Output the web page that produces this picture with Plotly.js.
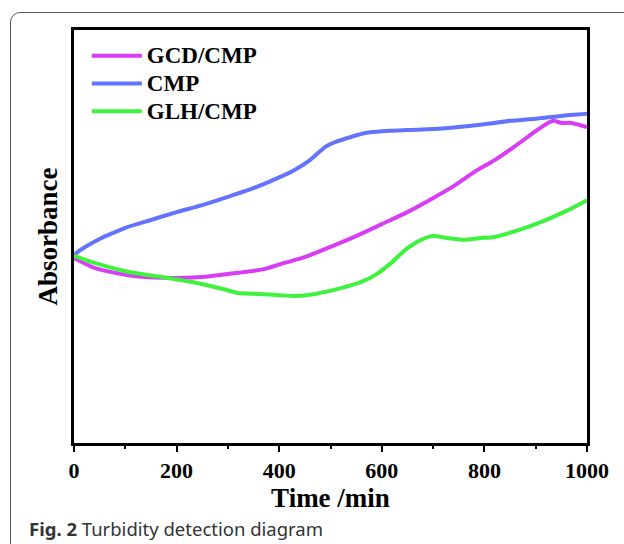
<!DOCTYPE html>
<html>
<head>
<meta charset="utf-8">
<script src="https://cdn.plot.ly/plotly-3.0.1.min.js"></script>
<style>
  html, body { margin: 0; padding: 0; background: #fff; overflow: hidden; }
  #wrap { position: relative; width: 624px; height: 544px; }
  #frame { position: absolute; left: 10px; top: 12px; width: 700px; height: 620px;
           border: 1.5px solid #555; border-radius: 10px; box-sizing: border-box; }
  #chart { position: absolute; left: 0; top: 0; width: 624px; height: 544px; }
</style>
</head>
<body>
<div id="wrap">
  <div id="frame"></div>
  <div id="chart"></div>
</div>
<script>
// Time (min) and absorbance (arbitrary units)
const timeCMP = [0, 10, 25, 50, 75, 100, 150, 200, 250, 300, 350, 400, 430, 460, 490, 510, 540, 570, 600, 650, 700, 750, 800, 850, 900, 950, 1000];
const absCMP  = [0.455, 0.465, 0.477, 0.494, 0.508, 0.521, 0.540, 0.559, 0.576, 0.596, 0.617, 0.643, 0.661, 0.685, 0.717, 0.729, 0.741, 0.751, 0.755, 0.758, 0.760, 0.765, 0.772, 0.780, 0.785, 0.792, 0.797];

const timeGCD = [0, 40, 80, 120, 170, 250, 320, 370, 410, 450, 500, 550, 600, 650, 690, 740, 780, 820, 860, 900, 920, 935, 950, 970, 985, 1000];
const absGCD  = [0.448, 0.424, 0.412, 0.404, 0.400, 0.402, 0.412, 0.421, 0.436, 0.450, 0.475, 0.501, 0.530, 0.559, 0.586, 0.622, 0.656, 0.685, 0.719, 0.755, 0.772, 0.780, 0.775, 0.775, 0.770, 0.765];

const timeGLH = [0, 40, 100, 170, 230, 290, 320, 360, 400, 430, 470, 520, 560, 590, 620, 650, 680, 700, 730, 760, 790, 820, 860, 910, 960, 1000];
const absGLH  = [0.453, 0.436, 0.416, 0.402, 0.390, 0.373, 0.363, 0.361, 0.358, 0.356, 0.361, 0.375, 0.390, 0.409, 0.438, 0.472, 0.494, 0.501, 0.496, 0.492, 0.496, 0.499, 0.513, 0.535, 0.562, 0.588];

const seriesNames = ['GCD/CMP', 'CMP', 'GLH/CMP'];
const xTickVals = [0, 200, 400, 600, 800, 1000];
const xTickText = ['0', '200', '400', '600', '800', '1000'];

const serif = 'Liberation Serif, Times New Roman, serif';
const colors = ['#d93cf5', '#6373fb', '#3ef23e'];

const traces = [
  { x: timeGCD, y: absGCD, name: seriesNames[0] },
  { x: timeCMP, y: absCMP, name: seriesNames[1] },
  { x: timeGLH, y: absGLH, name: seriesNames[2] }
].map((t, i) => Object.assign(t, {
  type: 'scatter', mode: 'lines',
  name: '<span style="font-size:23px">' + t.name + '</span>',
  line: { color: colors[i], width: 4, shape: 'spline', smoothing: 0.6 }
}));

const layout = {
  width: 624, height: 544,
  margin: { l: 74, r: 37, t: 30, b: 101 },
  paper_bgcolor: 'rgba(0,0,0,0)',
  plot_bgcolor: 'rgba(0,0,0,0)',
  showlegend: true,
  legend: {
    x: 0.025, y: 0.983, xanchor: 'left', yanchor: 'top',
    bgcolor: 'rgba(0,0,0,0)',
    font: { family: serif, size: 19, color: '#000', weight: 'bold' },
    itemwidth: 50
  },
  xaxis: {
    range: [0, 1000],
    tickvals: xTickVals, ticktext: xTickText,
    ticks: 'outside', ticklen: 6, tickwidth: 2, tickcolor: '#000',
    minor: { dtick: 100, ticks: 'outside', ticklen: 3, tickwidth: 2, tickcolor: '#000' },
    showline: true, linewidth: 3, linecolor: '#000', mirror: true,
    showgrid: false, zeroline: false,
    tickfont: { family: serif, size: 22, color: '#000', weight: 'bold' },
    title: { text: 'Time /min', font: { family: serif, size: 27, color: '#000', weight: 'bold' }, standoff: 0 }
  },
  yaxis: {
    range: [0, 1],
    showticklabels: false, ticks: '',
    showline: true, linewidth: 3, linecolor: '#000', mirror: true,
    showgrid: false, zeroline: false,
    title: { text: 'Absorbance', font: { family: serif, size: 27, color: '#000', weight: 'bold' }, standoff: 6 }
  },
  annotations: [{
    xref: 'paper', yref: 'paper',
    x: -0.092, y: -0.206, xanchor: 'left', yanchor: 'middle',
    showarrow: false,
    text: '<b>Fig. 2</b> Turbidity detection diagram',
    font: { family: 'Noto Sans, Open Sans, sans-serif', size: 18.5, color: '#333' }
  }]
};

Plotly.newPlot('chart', traces, layout, { displayModeBar: false, staticPlot: true });
</script>
</body>
</html>
